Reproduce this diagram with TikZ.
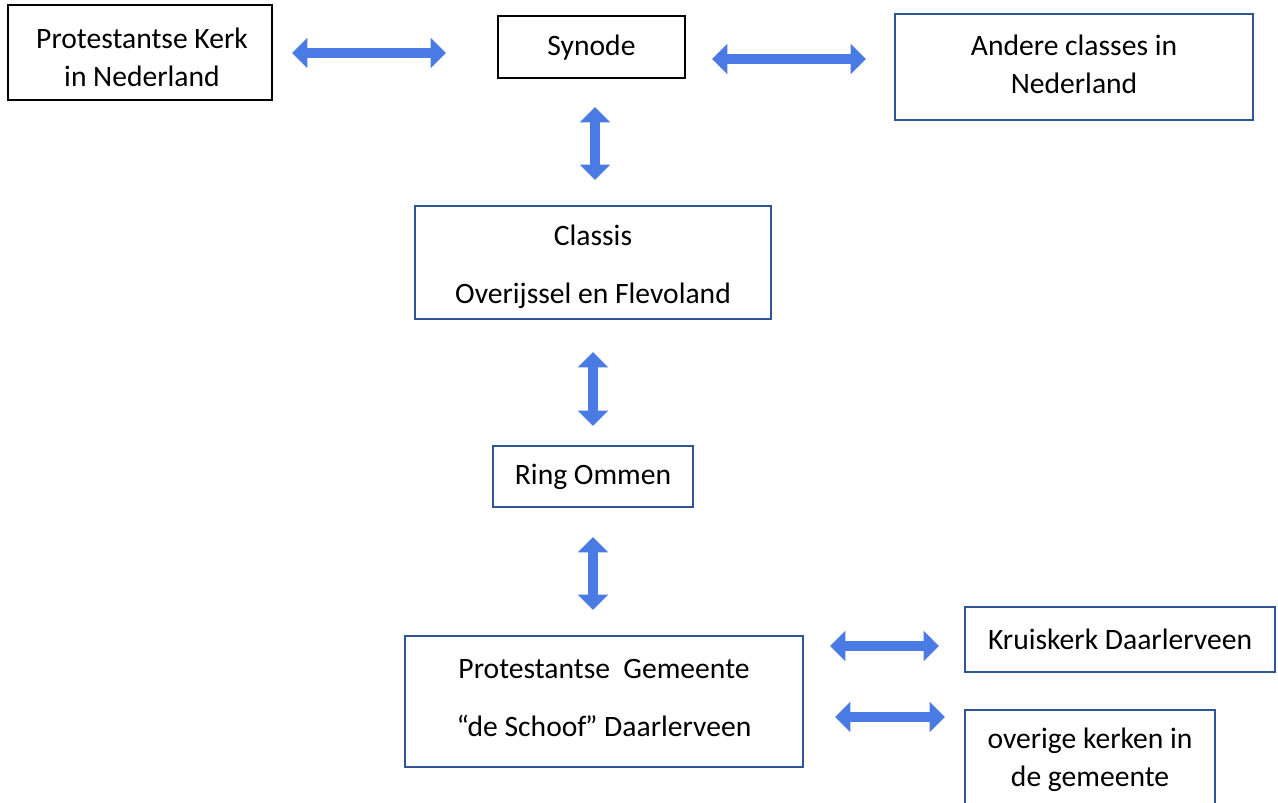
\documentclass[tikz,border=0pt]{standalone}
\usepackage{fontspec}
\setmainfont{Carlito}
\usetikzlibrary{arrows.meta}
\definecolor{boxblue}{HTML}{2F5597}
\definecolor{arrblue}{HTML}{4A7BE5}
\tikzset{
  box/.style={draw=boxblue, line width=1.6pt, rectangle, inner sep=0pt},
  blackbox/.style={box, draw=black},
  txt/.style={inner sep=0pt, align=center, font=\fontsize{22.2}{28.5}\selectfont},
  blockarrow/.style={draw=arrblue, line width=7.5pt,
    {Triangle[length=11.5pt,width=22pt]}-{Triangle[length=11.5pt,width=22pt]}}
}
\begin{document}
\begin{tikzpicture}[x=0.75pt,y=-0.75pt]
\useasboundingbox[fill=white] (0,0) rectangle (1278,803);
\clip (0,0) rectangle (1278,803);
% boxes
\node[blackbox, minimum width=198pt, minimum height=71pt] (pkn) at (140,52.5) {};
\node[blackbox, minimum width=140pt, minimum height=46.5pt] (syn) at (591.5,47) {};
\node[box, minimum width=268.5pt, minimum height=79.5pt] (and) at (1074,67) {};
\node[box, minimum width=267pt, minimum height=85pt] (cls) at (593,262.5) {};
\node[box, minimum width=150pt, minimum height=46pt] (ring) at (593,476.5) {};
\node[box, minimum width=298.5pt, minimum height=98pt] (pg) at (604,701.5) {};
\node[box, minimum width=232.5pt, minimum height=49pt] (kk) at (1120,639.5) {};
\node[box, minimum width=187.5pt, minimum height=91.5pt, anchor=north] (ov) at (1090,709) {};
% texts
\node[txt] (pknt) at (142,57) {Protestantse Kerk\\in Nederland};
\node[txt] (synt) at (591.5,48) {Synode};
\node[txt] (andt) at (1074,64) {Andere classes in\\Nederland};
\node[txt] (clst) at (593,267) {Classis\\[15pt]Overijssel en Flevoland};
\node[txt] (ringt) at (593,477) {Ring Ommen};
\node[txt] (pgt) at (604,697.5) {Protestantse\ \ Gemeente\\[15pt]“de Schoof\kern-1pt” Daarlerveen};
\node[txt] (kkt) at (1120,639.5) {Kruiskerk Daarlerveen};
\node[txt] (ovt) at (1090,760) {overige kerken in\\de gemeente};
% arrow end points
\coordinate (h1a) at (292,53);  \coordinate (h1b) at (446,53);
\coordinate (h2a) at (712,59);  \coordinate (h2b) at (866,59);
\coordinate (v1a) at (595,107); \coordinate (v1b) at (595,180);
\coordinate (v2a) at (593,352); \coordinate (v2b) at (593,426);
\coordinate (v3a) at (593,537); \coordinate (v3b) at (593,610);
\coordinate (h3a) at (830,646); \coordinate (h3b) at (939,646);
\coordinate (h4a) at (835,717); \coordinate (h4b) at (945,717);
\draw[blockarrow] (h1a) -- (h1b);
\draw[blockarrow] (h2a) -- (h2b);
\draw[blockarrow] (v1a) -- (v1b);
\draw[blockarrow] (v2a) -- (v2b);
\draw[blockarrow] (v3a) -- (v3b);
\draw[blockarrow] (h3a) -- (h3b);
\draw[blockarrow] (h4a) -- (h4b);
\end{tikzpicture}
\end{document}
